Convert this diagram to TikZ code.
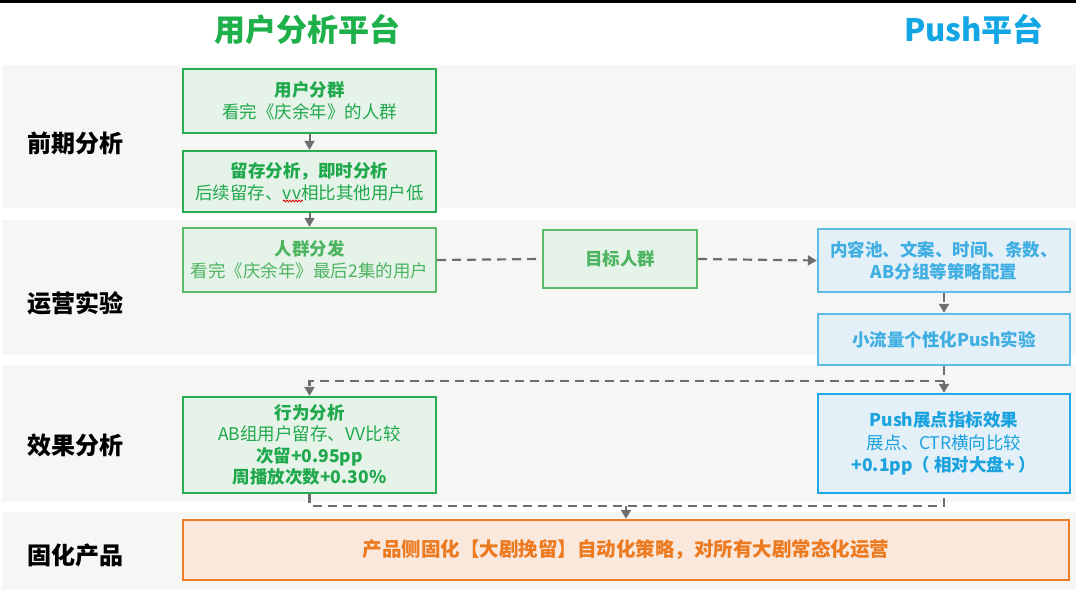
\documentclass[tikz,border=0pt]{standalone}
\usepackage{fontspec}
\setmainfont{Noto Sans CJK SC}
\usetikzlibrary{arrows.meta,decorations.pathmorphing}
\definecolor{bandgray}{HTML}{F6F6F5}
\definecolor{gA}{HTML}{27AE52}
\definecolor{gAtext}{HTML}{1FA84C}
\definecolor{gC}{HTML}{5DBB6C}
\definecolor{gCtext}{HTML}{4DB461}
\definecolor{gfill}{HTML}{E6F3E8}
\definecolor{bE}{HTML}{5BBDE8}
\definecolor{bEtext}{HTML}{3FAEE2}
\definecolor{bG}{HTML}{1FA9E6}
\definecolor{bGtext}{HTML}{1AA2DF}
\definecolor{bfill}{HTML}{E4F0F7}
\definecolor{oI}{HTML}{EE7D27}
\definecolor{oItext}{HTML}{EC7A20}
\definecolor{ofill}{HTML}{FBE8DC}
\definecolor{conn}{HTML}{6E6E6E}
\definecolor{titlegreen}{HTML}{1DB04B}
\definecolor{titleblue}{HTML}{12A6E4}
\tikzset{
  boxbase/.style={draw, line width=2.4pt, inner sep=0pt, align=center,
    font=\fontsize{17.5}{22}\selectfont},
  greenbox/.style={boxbase, draw=gA, fill=gfill, text=gAtext},
  palegreenbox/.style={boxbase, draw=gC, fill=gfill, text=gCtext},
  bluebox/.style={boxbase, draw=bE, fill=bfill, text=bEtext},
  deepbluebox/.style={boxbase, draw=bG, fill=bfill, text=bGtext},
  orangebox/.style={boxbase, draw=oI, fill=ofill, text=oItext,
    font=\fontsize{19.5}{22}\selectfont\bfseries},
  rowlabel/.style={anchor=west, inner sep=0pt, text=black,
    font=\fontsize{24}{24}\selectfont\bfseries},
  solidarrow/.style={draw=conn, line width=2pt,
    -{Triangle[width=10pt,length=9pt]}},
  dashline/.style={draw=conn, line width=2.2pt, dash pattern=on 9pt off 6pt},
  dasharrow/.style={dashline, -{Triangle[width=10pt,length=9pt]}},
}
\begin{document}
\begin{tikzpicture}[x=1pt,y=-1pt]
\useasboundingbox (0,0) rectangle (1076,600);
\fill[white] (0,0) rectangle (1076,600);
\fill[black] (0,0) rectangle (1076,2.5);
% bands
\fill[bandgray] (2,65) rectangle (1076,208);
\fill[bandgray] (2,220) rectangle (1076,355);
\fill[bandgray] (2,365) rectangle (1076,502);
\fill[bandgray] (2,512) rectangle (1076,590);
% titles
\node[text=titlegreen, font=\fontsize{31}{31}\selectfont\bfseries] (t1) at (307,29) {用户分析平台};
\node[text=titleblue, font=\fontsize{31}{31}\selectfont\bfseries] (t2) at (974,29) {Push平台};
% row labels
\node[rowlabel] (r1) at (27,143) {前期分析};
\node[rowlabel] (r2) at (27,303) {运营实验};
\node[rowlabel] (r3) at (27,445) {效果分析};
\node[rowlabel] (r4) at (27,555) {固化产品};
% boxes
\node[greenbox, minimum width=253pt, minimum height=64pt] (A) at (309.5,101)
  {\textbf{用户分群}\\看完《庆余年》的人群};
\node[greenbox, minimum width=253pt, minimum height=61pt] (B) at (309.5,181.5)
  {\textbf{留存分析，即时分析}\\后续留存、vv相比其他用户低};
\node[palegreenbox, minimum width=253pt, minimum height=64pt] (C) at (309.5,260)
  {\textbf{人群分发}\\看完《庆余年》最后2集的用户};
\node[palegreenbox, minimum width=154pt, minimum height=58pt, font=\fontsize{17.5}{22}\selectfont\bfseries] (D) at (620,259)
  {目标人群};
\node[bluebox, minimum width=252pt, minimum height=63pt, font=\fontsize{17.5}{22}\selectfont\bfseries] (E) at (944,260.5)
  {内容池、文案、时间、条数、\\AB分组等策略配置};
\node[bluebox, minimum width=252pt, minimum height=51pt, font=\fontsize{17.5}{22}\selectfont\bfseries] (F) at (944,339.5)
  {小流量个性化Push实验};
\node[deepbluebox, minimum width=252pt, minimum height=99pt, font=\fontsize{17.5}{22.5}\selectfont] (G) at (944,443.5)
  {\textbf{Push展点指标效果}\\展点、CTR横向比较\\\textbf{+0.1pp（ 相对大盘+ ）}};
\node[greenbox, minimum width=253pt, minimum height=96pt, font=\fontsize{17.5}{21.5}\selectfont] (H) at (309.5,445)
  {\textbf{行为分析}\\AB组用户留存、VV比较\\\textbf{次留+0.95pp}\\\textbf{周播放次数+0.30\%}};
\node[orangebox, minimum width=886pt, minimum height=60pt] (I) at (626,550)
  {产品侧固化【大剧挽留】自动化策略，对所有大剧常态化运营};
% spell-check squiggle under vv
\draw[red!85!black, line width=0.8pt, decorate, decoration={snake, amplitude=0.9pt, segment length=3pt}] (283,201) -- (303,201);
% connectors
\coordinate (j1) at (944,381);
\coordinate (j2) at (626,506);
\draw[solidarrow] (A.south) -- (B.north);
\draw[solidarrow] (B.south) -- (C.north);
\draw[dashline] (C.east) -- (D.west);
\draw[dasharrow] (D.east) -- (E.west);
\draw[dasharrow] (E.south) -- (F.north);
\draw[dasharrow] (F.south) -- (G.north);
\draw[dasharrow] (j1) -| (H.north);
\draw[dashline] (H.south) |- (G.south |- j2) -- (G.south);
\draw[dasharrow] (j2) -- (I.north);
\end{tikzpicture}
\end{document}
